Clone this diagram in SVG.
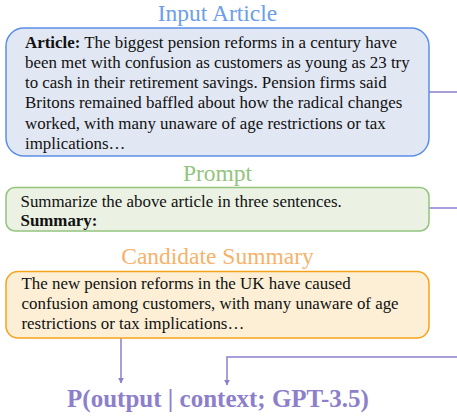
<svg xmlns="http://www.w3.org/2000/svg" width="457" height="419" viewBox="0 0 457 419" font-family="Liberation Serif, Times New Roman, serif">
<defs>
<style>
.t{font-size:16.9px;fill:#111}
.b{font-weight:bold}
.h{font-size:23.5px;text-anchor:middle}
.c{stroke:#8d7fcb;stroke-width:1.5;fill:none}
</style>
<marker id="ah" viewBox="0 0 10 10" refX="9" refY="5" markerWidth="6" markerHeight="6" orient="auto" markerUnits="userSpaceOnUse">
<path d="M0,0 L10,5 L0,10 z" fill="#8d7fcb"/>
</marker>
</defs>
<rect width="457" height="419" fill="#fff"/>
<g id="connectors">
<path class="c" d="M429,92 H457"/>
<path class="c" d="M429,208 H457"/>
<path class="c" d="M121,338 V383" marker-end="url(#ah)"/>
<path class="c" d="M457,357 H227 V385" marker-end="url(#ah)"/>
</g>
<g id="input-article">
<text class="h" x="217.5" y="20.5" fill="#6d9eeb">Input Article</text>
<rect x="6" y="28" width="423" height="128" rx="18" fill="#e1e7f3" stroke="#5b8fe6" stroke-width="1.5"/>
<text class="t" x="25" y="47.7"><tspan class="b">Article:</tspan> The biggest pension reforms in a century have</text>
<text class="t" x="25" y="67.9">been met with confusion as customers as young as 23 try</text>
<text class="t" x="25" y="88.1">to cash in their retirement savings. Pension firms said</text>
<text class="t" x="25" y="108.3">Britons remained baffled about how the radical changes</text>
<text class="t" x="25" y="128.5">worked, with many unaware of age restrictions or tax</text>
<text class="t" x="25" y="148.7">implications…</text>
</g>
<g id="prompt">
<text class="h" x="217.5" y="181" fill="#93c47d">Prompt</text>
<rect x="6" y="187.5" width="423" height="43.5" rx="9" fill="#ebf2e4" stroke="#93c47d" stroke-width="1.5"/>
<text class="t" x="20.5" y="206.5">Summarize the above article in three sentences.</text>
<text class="t b" x="20.5" y="225.5">Summary:</text>
</g>
<g id="candidate-summary">
<text class="h" x="217.5" y="264" fill="#f6b26b">Candidate Summary</text>
<rect x="6" y="271.5" width="423" height="66.5" rx="12" fill="#fcefd6" stroke="#f5a31c" stroke-width="1.5"/>
<text class="t" x="21.5" y="289.3">The new pension reforms in the UK have caused</text>
<text class="t" x="21.5" y="309.3">confusion among customers, with many unaware of age</text>
<text class="t" x="21.5" y="329.3">restrictions or tax implications…</text>
</g>
<g id="formula">
<text x="218" y="406.5" text-anchor="middle" font-size="25" font-weight="bold" fill="#8d7fcb">P(output | context; GPT-3.5)</text>
</g>
</svg>
